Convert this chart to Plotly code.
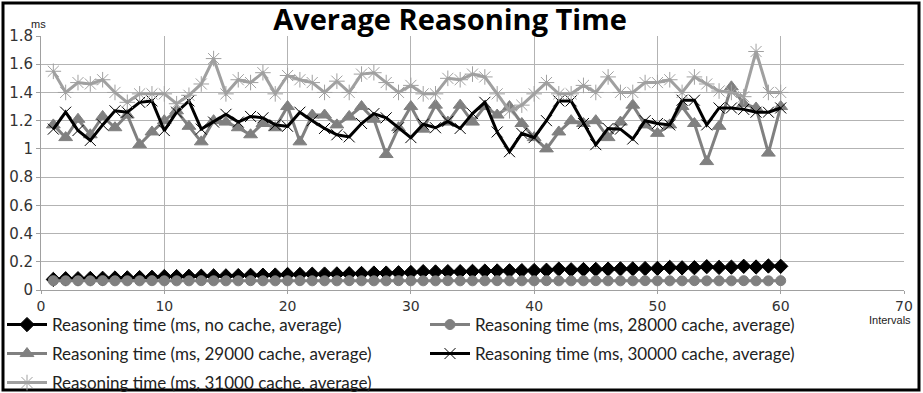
import plotly.graph_objects as go

intervals = list(range(1, 61))

no_cache = [0.075, 0.080, 0.080, 0.082, 0.083, 0.085, 0.086, 0.088, 0.090, 0.095,
            0.095, 0.097, 0.098, 0.100, 0.100, 0.102, 0.104, 0.105, 0.106, 0.110,
            0.110, 0.112, 0.113, 0.114, 0.115, 0.117, 0.120, 0.120, 0.122, 0.124,
            0.130, 0.128, 0.130, 0.130, 0.132, 0.134, 0.135, 0.136, 0.137, 0.138,
            0.140, 0.148, 0.143, 0.145, 0.146, 0.148, 0.150, 0.150, 0.152, 0.153,
            0.160, 0.157, 0.158, 0.165, 0.160, 0.162, 0.168, 0.163, 0.170, 0.168]

cache_28000 = [0.066, 0.065, 0.065, 0.065, 0.066, 0.065, 0.065, 0.065, 0.066, 0.065,
               0.065, 0.065, 0.066, 0.065, 0.065, 0.065, 0.066, 0.065, 0.065, 0.065,
               0.066, 0.065, 0.065, 0.065, 0.066, 0.065, 0.065, 0.065, 0.066, 0.065,
               0.065, 0.065, 0.066, 0.065, 0.065, 0.065, 0.066, 0.065, 0.065, 0.065,
               0.066, 0.065, 0.065, 0.065, 0.066, 0.065, 0.065, 0.065, 0.066, 0.065,
               0.065, 0.065, 0.066, 0.065, 0.065, 0.065, 0.066, 0.065, 0.065, 0.066]

cache_29000 = [1.17, 1.08, 1.21, 1.10, 1.23, 1.15, 1.24, 1.03, 1.12, 1.20,
               1.27, 1.16, 1.05, 1.20, 1.19, 1.15, 1.10, 1.18, 1.15, 1.30,
               1.05, 1.24, 1.24, 1.17, 1.23, 1.30, 1.21, 0.96, 1.15, 1.30,
               1.14, 1.31, 1.19, 1.31, 1.19, 1.30, 1.24, 1.30, 1.18, 1.08,
               1.00, 1.12, 1.20, 1.18, 1.20, 1.08, 1.19, 1.31, 1.17, 1.11,
               1.17, 1.30, 1.18, 0.91, 1.16, 1.44, 1.32, 1.29, 0.97, 1.30]

cache_30000 = [1.14, 1.26, 1.13, 1.06, 1.17, 1.27, 1.26, 1.33, 1.34, 1.13,
               1.26, 1.34, 1.14, 1.19, 1.245, 1.19, 1.23, 1.22, 1.17, 1.16,
               1.26, 1.20, 1.145, 1.10, 1.085, 1.18, 1.25, 1.22, 1.15, 1.08,
               1.175, 1.15, 1.195, 1.145, 1.25, 1.33, 1.12, 0.98, 1.11, 1.08,
               1.20, 1.34, 1.34, 1.18, 1.03, 1.145, 1.14, 1.07, 1.20, 1.18,
               1.17, 1.345, 1.345, 1.17, 1.29, 1.29, 1.28, 1.26, 1.26, 1.29]

cache_31000 = [1.55, 1.40, 1.47, 1.46, 1.49, 1.40, 1.33, 1.39, 1.39, 1.39,
               1.32, 1.38, 1.46, 1.64, 1.39, 1.49, 1.47, 1.54, 1.39, 1.52,
               1.49, 1.47, 1.40, 1.48, 1.40, 1.53, 1.54, 1.47, 1.40, 1.45,
               1.39, 1.39, 1.50, 1.49, 1.53, 1.51, 1.39, 1.27, 1.31, 1.39,
               1.47, 1.39, 1.39, 1.45, 1.40, 1.51, 1.40, 1.40, 1.47, 1.47,
               1.49, 1.40, 1.51, 1.46, 1.41, 1.40, 1.37, 1.69, 1.40, 1.40]

names = ["Reasoning time (ms, no cache, average)",
         "Reasoning time (ms, 28000 cache, average)",
         "Reasoning time (ms, 29000 cache, average)",
         "Reasoning time (ms, 30000 cache, average)",
         "Reasoning time (ms, 31000 cache, average)"]

W, H = 923, 393
PL, PR, PT, PB = 41, 904, 36, 290  # plot area in pixels


def px_x(p):
    return (p - PL) / (PR - PL)


def px_y(p):
    return (PB - p) / (PB - PT)


BLACK = "#000000"
GRAY = "#808080"
LIGHT = "#a0a0a0"

series = [
    (no_cache, BLACK, "diamond", 11, BLACK, 1),
    (cache_28000, GRAY, "circle", 10, GRAY, 1),
    (cache_29000, GRAY, "triangle-up", 12, GRAY, 1),
    (cache_30000, BLACK, "x-thin-open", 11, BLACK, 1),
    (cache_31000, LIGHT, "asterisk-open", 13, LIGHT, 1),
]

legend_names = ["legend", "legend2", "legend3", "legend4", "legend5"]

fig = go.Figure()
for i, (vals, col, sym, size, mcol, mlw) in enumerate(series):
    fig.add_trace(go.Scatter(
        x=intervals, y=vals, name=names[i], mode="lines+markers",
        line=dict(color=col, width=3),
        marker=dict(symbol=sym, size=size, color=mcol, line=dict(color=mcol, width=mlw)),
        legend=legend_names[i],
    ))

# legend positions (pixel coords of row centre, left edge)
leg_pos = [(2, 325), (425, 325), (2, 354), (425, 354), (2, 383)]
legend_font = dict(family="Lato", size=17, color="#222222")
layout_legends = {}
for ln, (lx, ly) in zip(legend_names, leg_pos):
    layout_legends[ln] = dict(
        x=px_x(lx), y=px_y(ly), xanchor="left", yanchor="middle",
        xref="paper", yref="paper", orientation="h",
        bgcolor="rgba(0,0,0,0)", font=legend_font, itemwidth=40,
    )

axis_font = dict(family="DejaVu Sans", size=15, color="#333333")

fig.update_layout(
    width=W, height=H,
    margin=dict(l=PL, r=W - PR, t=PT, b=H - PB, pad=0, autoexpand=False),
    paper_bgcolor="white", plot_bgcolor="white",
    showlegend=True,
    title=dict(text="<b>Average Reasoning Time</b>", x=px_x(450), xanchor="center",
               xref="paper", y=1 - 19.5 / H, yanchor="middle",
               font=dict(family="Open Sans", size=29, color="#000000")),
    xaxis=dict(range=[0, 70], dtick=10, showgrid=True, gridcolor="#b3b3b3", gridwidth=1,
               showline=True, linecolor="#a0a0a0", linewidth=1, mirror=False,
               ticks="outside", ticklen=3, tickcolor="#a0a0a0",
               tickfont=dict(family="DejaVu Sans", size=14, color="#333333"),
               zeroline=False),
    yaxis=dict(range=[0, 1.8], dtick=0.2, showgrid=True, gridcolor="#b3b3b3", gridwidth=1,
               showline=True, linecolor="#a0a0a0", linewidth=1,
               ticks="outside", ticklen=4, tickcolor="#a0a0a0",
               tickfont=axis_font, zeroline=False, tickformat="~g"),
    **layout_legends,
)

fig.add_annotation(text="ms", x=px_x(38), y=px_y(24), xref="paper", yref="paper",
                   showarrow=False, xanchor="center", yanchor="middle",
                   font=dict(family="Liberation Sans", size=11, color="#222222"))
fig.add_annotation(text="Intervals", x=px_x(890), y=px_y(320), xref="paper", yref="paper",
                   showarrow=False, xanchor="center", yanchor="middle",
                   font=dict(family="Liberation Sans", size=11, color="#222222"))

# outer frame
fig.add_shape(type="rect", xref="paper", yref="paper",
              x0=px_x(3), x1=px_x(919), y0=px_y(390), y1=px_y(3),
              line=dict(color="black", width=3), fillcolor="rgba(0,0,0,0)", layer="above")

fig.write_html("out.html")
